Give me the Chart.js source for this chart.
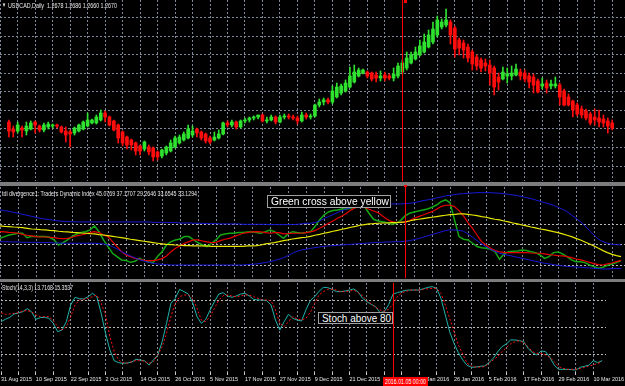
<!DOCTYPE html>
<html>
<head>
<meta charset="utf-8">
<title>USDCAD Daily</title>
<script src="https://cdn.jsdelivr.net/npm/chart.js@4.4.1/dist/chart.umd.min.js"></script>
<style>
  html, body { margin: 0; padding: 0; background: #000; }
  #stage { position: relative; width: 625px; height: 386px; overflow: hidden; background: #000; }
  #stage canvas { position: absolute; left: 0; }
  .sep { position: absolute; left: 0; width: 625px; background: #7c7c7c; }
  .hdr { position: absolute; color: #e8e8e8; font-family: "Liberation Sans", Arial, sans-serif; font-size: 7px; line-height: 7px; white-space: nowrap; transform-origin: left top; }
  .note { position: absolute; box-sizing: border-box; background: #000; border: 1px solid #a0a0a0; overflow: hidden; }
  .note span, #cursorDate span { position: absolute; left: 0; top: 0; color: #fff; font-family: "Liberation Sans", Arial, sans-serif; white-space: nowrap; transform-origin: left top; }
  .note span { font-size: 11px; line-height: 11px; }
  #cursorDate { position: absolute; left: 383px; top: 377px; width: 45px; height: 9px; background: #ff0000; overflow: hidden; }
  #cursorDate span { font-size: 7px; line-height: 9px; }
  .mark { position: absolute; background: #ff0000; }
</style>
</head>
<body>
<div id="stage">
  <canvas id="mainChart" width="625" height="181" style="top:0"></canvas>
  <div class="sep" style="top:182px;height:4px"></div>
  <canvas id="tdiChart" width="625" height="91" style="top:187px"></canvas>
  <div class="sep" style="top:279px;height:3px"></div>
  <canvas id="stochChart" width="625" height="103" style="top:283px"></canvas>

  <div class="hdr" style="left:2px;top:2px;font-size:6px" data-w="4">&#9660;</div>
  <div class="hdr" style="left:8px;top:2px" data-w="109">USDCAD,Daily&nbsp; 1.2678 1.2686 1.2660 1.2670</div>
  <div class="hdr" style="left:2px;top:190px" data-w="195">tdi divergence1: Traders Dynamic Index 45.0769 37.1707 29.2646 33.6545 33.1294</div>
  <div class="hdr" style="left:2px;top:284px" data-w="71">Stoch(14,3,3) 13.7168 15.3537</div>

  <div class="note" style="left:267px;top:195px;width:124px;height:13px"><span data-w="118" data-x="3">Green cross above yellow</span></div>
  <div class="note" style="left:318px;top:312px;width:75px;height:12px"><span data-w="69" data-x="3">Stoch above 80</span></div>

  <div class="mark" style="left:404px;top:0;width:3px;height:3px"></div>
  <div class="mark" style="left:404px;top:185px;width:3px;height:2px"></div>
  <div id="cursorDate"><span data-w="41" data-x="2">2016.01.05 00:00</span></div>
</div>

<script>
// date labels under every 8th bar
const dateLabels = ["31 Aug 2015", "10 Sep 2015", "22 Sep 2015", "2 Oct 2015", "14 Oct 2015", "26 Oct 2015",
    "5 Nov 2015", "17 Nov 2015", "27 Nov 2015", "9 Dec 2015", "21 Dec 2015", "4 Jan 2016",
    "14 Jan 2016", "26 Jan 2016", "5 Feb 2016", "17 Feb 2016", "29 Feb 2016", "10 Mar 2016"];

const opens = [
    1.3294, 1.3200, 1.3173, 1.3213, 1.3173, 1.3200, 1.3294, 1.3240, 1.3187, 1.3227,
    1.3240, 1.3254, 1.3227, 1.3173, 1.3160, 1.3146, 1.3173, 1.3200, 1.3240, 1.3281,
    1.3281, 1.3321, 1.3415, 1.3361, 1.3308, 1.3254, 1.3160, 1.3092, 1.3052, 1.3012,
    1.2972, 1.2931, 1.2958, 1.2945, 1.2891, 1.2837, 1.2877, 1.2904, 1.2958, 1.3012,
    1.3052, 1.3079, 1.3119, 1.3200, 1.3160, 1.3133, 1.3079, 1.3052, 1.3079, 1.3133,
    1.3281, 1.3254, 1.3294, 1.3227, 1.3308, 1.3321, 1.3348, 1.3361, 1.3388, 1.3308,
    1.3321, 1.3361, 1.3294, 1.3361, 1.3375, 1.3361, 1.3348, 1.3308, 1.3388, 1.3361,
    1.3375, 1.3523, 1.3563, 1.3590, 1.3563, 1.3630, 1.3684, 1.3711, 1.3764, 1.3832,
    1.3912, 1.3953, 1.3966, 1.3953, 1.3926, 1.3885, 1.3926, 1.3912, 1.3885, 1.3912,
    1.3966, 1.4020, 1.4087, 1.4141, 1.4195, 1.4235, 1.4302, 1.4369, 1.4463, 1.4571,
    1.4598, 1.4638, 1.4557, 1.4396, 1.4356, 1.4302, 1.4235, 1.4168, 1.4127, 1.4087,
    1.4060, 1.4020, 1.3899, 1.3872, 1.3912, 1.3912, 1.3926, 1.3966, 1.3953, 1.3912,
    1.3899, 1.3845, 1.3778, 1.3818, 1.3778, 1.3778, 1.3791, 1.3711, 1.3630, 1.3576,
    1.3523, 1.3469, 1.3442, 1.3402, 1.3361, 1.3348, 1.3334, 1.3308, 1.3281];
const highs = [
    1.3321, 1.3240, 1.3294, 1.3240, 1.3294, 1.3308, 1.3308, 1.3254, 1.3281, 1.3294,
    1.3267, 1.3267, 1.3240, 1.3227, 1.3187, 1.3227, 1.3267, 1.3308, 1.3415, 1.3334,
    1.3388, 1.3455, 1.3442, 1.3375, 1.3321, 1.3267, 1.3173, 1.3106, 1.3066, 1.3025,
    1.2985, 1.3039, 1.2985, 1.2958, 1.2904, 1.2931, 1.2972, 1.3052, 1.3106, 1.3119,
    1.3160, 1.3254, 1.3240, 1.3213, 1.3173, 1.3146, 1.3106, 1.3160, 1.3187, 1.3294,
    1.3308, 1.3321, 1.3308, 1.3321, 1.3348, 1.3361, 1.3375, 1.3388, 1.3402, 1.3361,
    1.3388, 1.3375, 1.3388, 1.3402, 1.3402, 1.3388, 1.3375, 1.3428, 1.3415, 1.3402,
    1.3536, 1.3603, 1.3617, 1.3617, 1.3778, 1.3818, 1.3805, 1.3859, 1.4033, 1.4060,
    1.4020, 1.4006, 1.3980, 1.3966, 1.3966, 1.3980, 1.3966, 1.3939, 1.4020, 1.4087,
    1.4127, 1.4235, 1.4235, 1.4302, 1.4396, 1.4477, 1.4531, 1.4638, 1.4719, 1.4678,
    1.4813, 1.4665, 1.4584, 1.4423, 1.4396, 1.4342, 1.4262, 1.4195, 1.4154, 1.4141,
    1.4127, 1.4047, 1.3953, 1.4033, 1.4020, 1.4047, 1.4074, 1.4006, 1.3993, 1.3953,
    1.3939, 1.3872, 1.3885, 1.3859, 1.3859, 1.3899, 1.3818, 1.3738, 1.3670, 1.3590,
    1.3549, 1.3509, 1.3469, 1.3428, 1.3469, 1.3455, 1.3388, 1.3348, 1.3321];
const lows = [
    1.3092, 1.3092, 1.3146, 1.3092, 1.3119, 1.3187, 1.3146, 1.3160, 1.3160, 1.3200,
    1.3213, 1.3213, 1.3146, 1.3025, 1.2958, 1.3119, 1.3160, 1.3187, 1.3227, 1.3267,
    1.3267, 1.3308, 1.3294, 1.3240, 1.3173, 1.3012, 1.2972, 1.2931, 1.2918, 1.2851,
    1.2851, 1.2904, 1.2851, 1.2770, 1.2783, 1.2810, 1.2851, 1.2891, 1.2945, 1.2998,
    1.3039, 1.3066, 1.3092, 1.3092, 1.3052, 1.3012, 1.2998, 1.3039, 1.3066, 1.3119,
    1.3227, 1.3227, 1.3200, 1.3213, 1.3281, 1.3294, 1.3321, 1.3334, 1.3294, 1.3281,
    1.3308, 1.3267, 1.3281, 1.3334, 1.3334, 1.3321, 1.3267, 1.3294, 1.3334, 1.3334,
    1.3361, 1.3496, 1.3523, 1.3536, 1.3536, 1.3617, 1.3657, 1.3697, 1.3751, 1.3818,
    1.3899, 1.3939, 1.3885, 1.3845, 1.3832, 1.3845, 1.3845, 1.3859, 1.3845, 1.3885,
    1.3939, 1.3993, 1.4074, 1.4127, 1.4181, 1.4221, 1.4289, 1.4342, 1.4436, 1.4544,
    1.4571, 1.4342, 1.4168, 1.4195, 1.4154, 1.4100, 1.3993, 1.3993, 1.3966, 1.3980,
    1.3791, 1.3657, 1.3724, 1.3859, 1.3818, 1.3859, 1.3912, 1.3859, 1.3832, 1.3751,
    1.3684, 1.3684, 1.3738, 1.3684, 1.3738, 1.3751, 1.3523, 1.3509, 1.3509, 1.3361,
    1.3375, 1.3348, 1.3321, 1.3254, 1.3254, 1.3227, 1.3227, 1.3146, 1.3187];
const closes = [
    1.3173, 1.3160, 1.3254, 1.3187, 1.3240, 1.3281, 1.3254, 1.3187, 1.3254, 1.3267,
    1.3254, 1.3240, 1.3160, 1.3119, 1.3133, 1.3213, 1.3254, 1.3294, 1.3321, 1.3321,
    1.3361, 1.3415, 1.3361, 1.3254, 1.3187, 1.3079, 1.3012, 1.2985, 1.2985, 1.2904,
    1.2904, 1.3025, 1.2891, 1.2824, 1.2824, 1.2918, 1.2958, 1.3012, 1.3079, 1.3092,
    1.3133, 1.3200, 1.3173, 1.3146, 1.3079, 1.3039, 1.3025, 1.3092, 1.3133, 1.3281,
    1.3254, 1.3294, 1.3227, 1.3308, 1.3321, 1.3348, 1.3361, 1.3388, 1.3308, 1.3321,
    1.3361, 1.3294, 1.3361, 1.3375, 1.3361, 1.3348, 1.3308, 1.3388, 1.3361, 1.3375,
    1.3523, 1.3563, 1.3590, 1.3563, 1.3711, 1.3764, 1.3778, 1.3818, 1.3912, 1.3966,
    1.3993, 1.3993, 1.3912, 1.3872, 1.3885, 1.3912, 1.3885, 1.3885, 1.3939, 1.4047,
    1.4087, 1.4154, 1.4195, 1.4235, 1.4316, 1.4369, 1.4463, 1.4544, 1.4665, 1.4638,
    1.4665, 1.4463, 1.4275, 1.4289, 1.4262, 1.4154, 1.4074, 1.4047, 1.4020, 1.4047,
    1.3953, 1.3764, 1.3832, 1.3966, 1.3939, 1.3953, 1.4006, 1.3912, 1.3872, 1.3832,
    1.3791, 1.3697, 1.3805, 1.3751, 1.3805, 1.3805, 1.3630, 1.3523, 1.3523, 1.3455,
    1.3402, 1.3388, 1.3348, 1.3281, 1.3321, 1.3294, 1.3281, 1.3240, 1.3213];

// Traders Dynamic Index lines
const tdiPrice = [
    50.0, 51.3, 52.5, 53.0, 53.8, 53.8, 50.5, 51.3, 51.3, 51.3,
    51.3, 50.8, 48.8, 45.0, 46.8, 48.8, 51.3, 53.3, 54.3, 55.0,
    56.3, 59.3, 55.0, 48.8, 43.8, 38.8, 36.3, 33.8, 33.3, 32.0,
    32.8, 35.0, 33.3, 32.3, 31.8, 36.3, 40.0, 45.0, 47.5, 48.8,
    49.5, 51.3, 51.3, 48.8, 46.8, 45.0, 43.8, 46.3, 48.8, 52.5,
    53.3, 53.8, 53.8, 54.3, 54.3, 54.8, 55.0, 54.3, 53.8, 55.0,
    56.3, 55.0, 52.5, 50.0, 53.3, 55.0, 54.3, 53.8, 54.3, 55.0,
    58.8, 63.8, 67.5, 69.8, 70.8, 71.3, 72.0, 72.0, 72.5, 73.8,
    75.0, 73.8, 68.8, 64.3, 63.0, 62.5, 61.8, 60.5, 61.3, 63.3,
    66.8, 68.8, 69.8, 70.5, 71.3, 72.0, 73.3, 75.0, 77.5, 78.8,
    76.8, 63.8, 51.3, 49.3, 48.8, 46.3, 43.8, 43.0, 42.5, 41.8,
    40.0, 34.3, 38.3, 40.0, 40.3, 40.5, 41.3, 40.8, 40.0, 39.3,
    37.5, 35.0, 36.3, 39.3, 39.8, 38.3, 36.3, 33.8, 32.5, 32.5,
    31.8, 30.0, 28.8, 27.5, 28.3, 29.8, 30.8, 31.8, 33.3];
const tdiSignal = [
    55.0, 54.8, 54.5, 54.3, 53.8, 53.0, 52.3, 51.8, 51.3, 51.0,
    51.0, 50.8, 50.5, 50.0, 49.8, 50.0, 50.8, 51.8, 52.5, 53.3,
    54.3, 55.0, 54.3, 52.5, 51.3, 47.5, 43.8, 40.0, 37.5, 36.3,
    35.0, 34.3, 33.5, 33.3, 33.3, 33.8, 34.8, 36.8, 40.0, 42.5,
    44.3, 46.3, 47.5, 48.8, 48.8, 48.0, 47.3, 46.8, 47.0, 48.3,
    49.3, 50.0, 51.3, 52.5, 53.8, 54.3, 54.8, 55.0, 54.8, 54.3,
    53.8, 54.3, 54.3, 53.3, 53.5, 53.8, 53.8, 53.8, 54.3, 54.8,
    55.8, 57.5, 59.3, 61.3, 63.0, 65.0, 66.8, 68.8, 71.3, 73.0,
    73.8, 73.3, 71.8, 70.5, 69.3, 66.8, 64.3, 62.5, 62.0, 62.0,
    62.0, 63.3, 65.0, 66.3, 67.5, 68.8, 70.0, 71.8, 73.8, 74.8,
    75.0, 73.8, 70.8, 66.8, 61.8, 57.5, 52.5, 47.5, 45.0, 42.5,
    40.8, 39.8, 39.5, 39.3, 39.3, 39.3, 39.3, 39.3, 39.0, 38.8,
    38.8, 38.3, 37.8, 37.5, 37.0, 36.8, 36.3, 35.5, 34.5, 33.8,
    33.0, 32.0, 31.0, 30.3, 30.0, 30.8, 31.5, 32.5, 33.5];
const tdiBase = [
    59.3, 59.0, 58.8, 58.5, 58.3, 58.0, 57.5, 57.0, 56.8, 56.5,
    56.3, 56.0, 55.8, 55.3, 55.0, 54.8, 54.5, 54.3, 54.0, 53.8,
    53.5, 53.3, 52.8, 52.5, 52.0, 51.5, 51.0, 50.5, 50.0, 49.3,
    48.8, 48.3, 47.8, 47.3, 46.8, 46.3, 45.8, 45.5, 45.3, 45.0,
    44.8, 44.5, 44.5, 44.3, 44.3, 44.3, 44.3, 44.0, 44.0, 44.0,
    44.0, 44.0, 44.0, 44.0, 44.0, 44.3, 44.3, 44.5, 45.0, 45.8,
    46.3, 46.8, 47.5, 48.3, 48.8, 49.5, 50.0, 50.5, 50.8, 51.5,
    52.3, 53.0, 53.8, 54.5, 55.3, 56.0, 56.8, 57.5, 58.3, 59.0,
    59.8, 60.3, 60.8, 61.0, 61.3, 61.5, 61.5, 61.8, 61.8, 62.0,
    62.3, 63.0, 63.8, 64.3, 64.8, 65.3, 65.8, 66.3, 66.8, 67.3,
    67.8, 68.0, 68.3, 68.3, 68.0, 67.5, 67.0, 66.3, 65.8, 65.0,
    64.3, 63.8, 63.0, 62.3, 61.5, 60.8, 60.0, 59.3, 58.5, 57.8,
    57.0, 56.5, 55.8, 55.0, 54.3, 53.3, 52.3, 51.3, 50.0, 48.8,
    47.3, 45.8, 44.3, 42.5, 40.8, 39.3, 38.0, 37.0, 36.3];
const tdiUpper = [
    71.3, 70.8, 70.3, 69.5, 68.8, 68.0, 67.3, 66.5, 65.8, 65.0,
    64.5, 64.0, 63.5, 63.0, 62.8, 62.5, 62.5, 62.3, 62.3, 62.3,
    62.3, 62.3, 62.3, 62.3, 62.3, 62.3, 62.3, 62.3, 62.3, 62.3,
    62.3, 62.3, 62.3, 62.3, 62.0, 62.0, 62.0, 61.8, 61.8, 61.8,
    61.5, 61.5, 61.5, 61.3, 61.3, 61.3, 61.0, 61.0, 61.0, 60.8,
    60.8, 60.8, 60.8, 60.8, 60.5, 60.5, 60.5, 60.5, 60.5, 60.5,
    60.3, 60.3, 60.3, 60.3, 60.3, 60.3, 60.5, 60.8, 61.3, 61.3,
    61.8, 63.0, 64.8, 66.3, 67.8, 69.3, 70.8, 72.0, 73.0, 73.8,
    74.5, 75.0, 75.3, 75.5, 75.8, 75.8, 75.8, 75.8, 75.8, 75.8,
    76.0, 76.3, 76.8, 77.5, 78.3, 78.8, 79.5, 80.3, 81.0, 81.8,
    82.3, 82.8, 83.3, 83.5, 83.8, 84.0, 84.3, 84.3, 84.3, 84.3,
    84.0, 83.8, 83.5, 83.0, 82.5, 82.0, 81.3, 80.5, 79.8, 78.8,
    77.8, 76.8, 75.8, 74.8, 73.3, 71.8, 70.0, 67.5, 65.0, 62.5,
    59.3, 55.8, 52.5, 49.3, 47.5, 46.3, 45.5, 45.3, 45.0];
const tdiLower = [
    47.5, 47.5, 47.3, 47.3, 47.3, 47.0, 47.0, 47.0, 47.0, 46.8,
    46.8, 46.8, 46.5, 46.5, 46.3, 46.3, 46.3, 46.3, 46.3, 46.3,
    46.3, 46.3, 46.0, 45.8, 45.0, 43.8, 42.0, 40.0, 38.3, 36.8,
    35.3, 34.0, 33.0, 32.0, 31.3, 30.8, 30.5, 30.3, 30.0, 30.0,
    30.0, 30.0, 30.0, 30.0, 30.0, 30.0, 30.0, 30.0, 30.0, 30.0,
    30.0, 30.0, 30.0, 30.0, 30.0, 30.3, 30.5, 30.8, 31.3, 31.8,
    32.5, 33.3, 34.3, 35.5, 37.0, 38.8, 40.3, 41.3, 41.8, 42.5,
    43.0, 43.5, 44.0, 44.3, 44.5, 44.8, 45.0, 45.3, 45.5, 45.8,
    46.0, 46.3, 46.5, 46.8, 47.0, 47.0, 47.3, 47.3, 47.5, 47.5,
    47.8, 48.3, 49.0, 49.8, 50.8, 51.8, 52.8, 53.8, 54.8, 55.8,
    56.3, 56.3, 56.0, 55.3, 53.3, 50.8, 48.3, 45.8, 43.8, 41.8,
    40.3, 38.8, 38.0, 37.3, 36.5, 35.8, 35.0, 34.3, 33.5, 32.8,
    32.0, 31.3, 30.8, 30.3, 29.8, 29.3, 29.0, 28.8, 28.5, 28.3,
    28.0, 27.8, 27.5, 27.3, 27.0, 27.0, 27.3, 27.3, 27.3];

// Stochastic (14,3,3)
const stochMain = [
    56.6, 59.2, 61.4, 65.2, 66.3, 67.8, 71.2, 67.8, 59.2, 61.1,
    61.4, 60.3, 54.7, 45.3, 47.2, 56.6, 75.3, 83.9, 82.4, 82.0,
    84.6, 88.4, 84.6, 65.9, 43.5, 24.7, 12.7, 10.5, 9.8, 10.1,
    11.2, 14.2, 13.5, 12.4, 7.9, 13.5, 19.1, 34.1, 54.7, 77.1,
    82.8, 92.9, 90.3, 87.6, 77.9, 62.2, 54.7, 59.2, 69.7, 79.0,
    87.6, 89.1, 85.4, 83.9, 85.4, 87.6, 88.4, 85.4, 81.6, 80.9,
    80.9, 80.2, 75.3, 58.4, 47.2, 56.6, 64.8, 60.3, 58.4, 57.3,
    69.7, 80.2, 84.6, 90.6, 95.1, 94.8, 92.9, 90.3, 90.3, 91.0,
    92.1, 93.3, 89.9, 82.8, 79.0, 76.0, 73.4, 66.7, 67.8, 75.7,
    87.6, 89.1, 90.6, 91.8, 92.1, 92.1, 92.1, 93.6, 95.1, 95.9,
    94.0, 82.8, 64.1, 45.3, 32.2, 21.7, 13.5, 7.5, 5.3, 5.6,
    6.4, 6.8, 10.5, 15.4, 22.5, 28.5, 31.5, 36.0, 36.0, 35.2,
    34.1, 26.6, 21.7, 19.1, 23.6, 22.9, 16.5, 7.9, 3.0, 3.0,
    3.0, 2.6, 2.3, 5.3, 6.4, 7.9, 12.7, 10.5, 12.7];
const stochSignal = [
    66.7, 64.8, 65.2, 65.9, 66.7, 68.5, 68.9, 67.8, 64.1, 62.2,
    62.2, 62.2, 57.7, 51.0, 47.2, 51.0, 62.2, 75.3, 80.9, 81.6,
    82.8, 84.6, 86.5, 77.1, 64.1, 39.7, 22.9, 13.5, 10.5, 9.8,
    11.6, 12.7, 13.5, 11.6, 9.8, 11.6, 19.1, 28.5, 43.5, 62.2,
    77.1, 84.6, 86.5, 86.5, 82.8, 71.5, 58.4, 56.6, 62.2, 71.5,
    80.9, 85.8, 86.5, 85.4, 84.6, 85.4, 86.5, 86.5, 84.6, 82.8,
    80.9, 80.9, 80.2, 69.7, 54.7, 51.0, 56.6, 62.2, 59.5, 58.4,
    60.3, 67.0, 77.1, 86.5, 90.3, 92.9, 92.9, 92.1, 90.3, 90.3,
    91.0, 91.8, 89.1, 85.8, 80.2, 76.4, 72.7, 69.7, 68.2, 70.4,
    76.4, 84.6, 89.1, 90.6, 92.1, 92.1, 92.1, 92.9, 93.6, 94.0,
    94.0, 88.4, 75.3, 60.3, 45.3, 30.3, 20.2, 9.8, 6.8, 5.3,
    5.6, 6.0, 9.8, 13.5, 17.2, 22.9, 27.3, 31.5, 34.1, 35.2,
    33.0, 28.5, 22.9, 21.0, 21.0, 19.1, 16.5, 11.6, 6.0, 4.1,
    3.0, 3.0, 3.0, 3.8, 5.3, 6.8, 7.9, 9.8, 11.2];

// horizontal grid / levels
const priceGrid = [1.27, 1.295, 1.32, 1.345, 1.37, 1.395, 1.42, 1.445, 1.47];
const tdiLevels = [30, 45, 60];
const stochLevels = [20, 50, 80];
const cursorBar = 90;

const gridColor = "#7e8898";
const levelColor = "#b8b8b8";
const smallFont = "'Liberation Sans', Arial, sans-serif";

// squeeze the small texts to the widths they have in the terminal
document.querySelectorAll("[data-w]").forEach(el => {
    const w = +el.dataset.w;
    const natural = el.getBoundingClientRect().width;
    const sx = natural > 0 ? w / natural : 1;
    el.style.transform = `translateX(${el.dataset.x || 0}px) scaleX(${sx})`;
});

// pick the axis font size so a date label is about 31px wide
const probe = document.createElement("canvas").getContext("2d");
probe.font = `10px ${smallFont}`;
const axisFontSize = Math.min(8, 10 * 31 / probe.measureText("31 Aug 2015").width);

const xy = arr => arr.map((v, i) => ({ x: i, y: v }));

function timeAxis(withLabels) {
    return {
        type: "linear",
        min: 0,
        max: 625 / 4.5,
        afterBuildTicks: s => {
            const t = [];
            for (let v = 0; v < opens.length; v += 4) t.push({ value: v });
            s.ticks = t;
        },
        grid: { color: gridColor, lineWidth: 1, drawTicks: withLabels, tickLength: 3, tickColor: "#c8c8c8" },
        border: { display: false, dash: [2, 2] },
        ticks: withLabels ? {
            autoSkip: false, maxRotation: 0, align: "start", padding: 1,
            color: "#e8e8e8", font: { family: smallFont, size: axisFontSize },
            callback: v => (v % 8 === 0 ? dateLabels[v / 8] : "")
        } : { display: false },
        afterFit: s => { s.height = withLabels ? 14 : 0; }
    };
}

function levelAxis(min, max, levels, color) {
    return {
        type: "linear", min, max,
        afterBuildTicks: s => { s.ticks = levels.map(v => ({ value: v })); },
        ticks: { display: false },
        grid: { color, drawTicks: false, lineWidth: 1 },
        border: { display: false, dash: [2, 2] },
        afterFit: s => { s.width = 0; }
    };
}

const cursorLine = {
    id: "cursorLine",
    afterDatasetsDraw(chart) {
        const x = Math.round(chart.scales.x.getPixelForValue(cursorBar)) + 0.5;
        const ctx = chart.ctx;
        ctx.save();
        ctx.strokeStyle = "#ff0000";
        ctx.lineWidth = 1;
        ctx.beginPath();
        ctx.moveTo(x, 0);
        ctx.lineTo(x, chart.height);
        ctx.stroke();
        ctx.restore();
    }
};

const baseOptions = {
    responsive: false,
    animation: false,
    events: [],
    layout: { padding: 0 },
    plugins: { legend: { display: false }, tooltip: { enabled: false } }
};

// candles: body = [open, close], wick = [low, high]
const bodies = [], wicks = [], candleColors = [];
for (let i = 0; i < opens.length; i++) {
    bodies.push({ x: i, y: [opens[i], closes[i]] });
    wicks.push({ x: i, y: [lows[i], highs[i]] });
    candleColors.push(closes[i] >= opens[i] ? "#2fe22f" : "#ff0d0d");
}

new Chart(document.getElementById("mainChart"), {
    type: "bar",
    data: {
        datasets: [
            { data: bodies, backgroundColor: candleColors, barThickness: 3, minBarLength: 1, grouped: false, order: 0 },
            { data: wicks, backgroundColor: candleColors, barThickness: 1, grouped: false, order: 1 }
        ]
    },
    options: {
        ...baseOptions,
        scales: { x: timeAxis(false), y: levelAxis(1.2501, 1.4934, priceGrid, gridColor) }
    },
    plugins: [cursorLine]
});

const line = (data, color, width, extra) => Object.assign({
    type: "line", data: xy(data), borderColor: color, borderWidth: width,
    pointRadius: 0, tension: 0, fill: false
}, extra || {});

new Chart(document.getElementById("tdiChart"), {
    type: "line",
    data: {
        datasets: [
            line(tdiUpper, "#1818d8", 1),
            line(tdiLower, "#1818d8", 1),
            line(tdiBase, "#e6e600", 1.2),
            line(tdiSignal, "#e80000", 1.2),
            line(tdiPrice, "#13a813", 1.5)
        ]
    },
    options: {
        ...baseOptions,
        scales: { x: timeAxis(false), y: levelAxis(20.25, 88.5, tdiLevels, levelColor) }
    },
    plugins: [cursorLine]
});

new Chart(document.getElementById("stochChart"), {
    type: "line",
    data: {
        datasets: [
            line(stochSignal, "#ff1010", 1, { borderDash: [2, 2] }),
            line(stochMain, "#20b2aa", 1)
        ]
    },
    options: {
        ...baseOptions,
        scales: { x: timeAxis(true), y: levelAxis(0, 100, stochLevels, levelColor) }
    },
    plugins: [cursorLine]
});
</script>
</body>
</html>
